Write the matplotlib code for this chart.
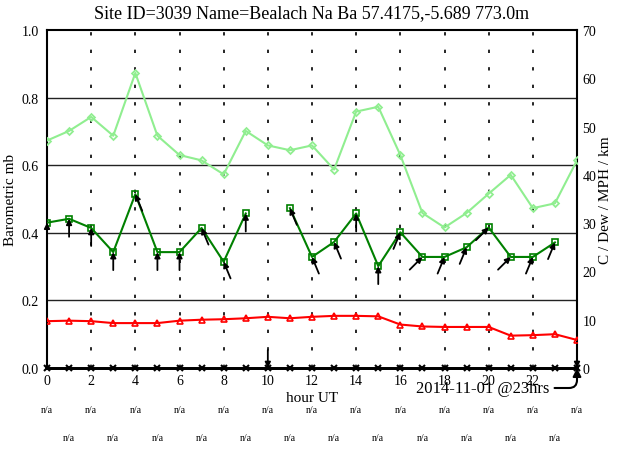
import matplotlib
matplotlib.use("Agg")
import matplotlib.pyplot as plt
import matplotlib.transforms as mtransforms
import numpy as np

plt.rcParams["font.family"] = ["Liberation Serif", "DejaVu Serif"]

# ── Data ──────────────────────────────────────────────────────────────────────
hours = list(range(25))
light_green = [47.1, 49.1, 52.0, 48.1, 61.1, 48.1, 44.1, 43.0, 40.1, 49.1, 46.1, 45.1, 46.1,
               41.1, 53.1, 54.1, 44.1, 32.1, 29.1, 32.1, 36.1, 40.0, 33.1, 34.1, 43.0]
wind_speed = [30.1, 30.9, 29.0, 24.0, 36.0, 24.0, 24.0, 29.0, 22.0, 32.0, np.nan, 33.1, 23.0,
              26.1, 32.0, 21.1, 28.1, 23.0, 23.0, 25.0, 29.1, 23.0, 23.0, 26.0, np.nan]
wind_dir = [180, 180, 180, 180, 157.5, 180, 180, 157.5, 157.5, 180, 0, 157.5, 157.5,
            157.5, 180, 180, 202.5, 225, 202.5, 202.5, 225, 225, 202.5, 202.5, 0]
red_line = [9.7, 9.8, 9.7, 9.3, 9.3, 9.3, 9.8, 10.0, 10.1, 10.3, 10.6, 10.3, 10.6,
            10.8, 10.8, 10.7, 9.0, 8.6, 8.5, 8.5, 8.5, 6.7, 6.8, 7.0, 5.8]
rain = [0.0, 0.0, 0.0, 0.0, 0.0, 0.0, 0.0, 0.0, 0.0, 0.0, 0.0, 0.0, 0.0,
        0.0, 0.0, 0.0, 0.0, 0.0, 0.0, 0.0, 0.0, 0.0, 0.0, 0.0, 0.0]
na_even = ["n/a"] * 13
na_odd = ["n/a"] * 12

TITLE = "Site ID=3039 Name=Bealach Na Ba 57.4175,-5.689 773.0m"
STAMP = "2014-11-01 @23hrs"

# ── Figure ────────────────────────────────────────────────────────────────────
fig = plt.figure(figsize=(6.18, 4.52), dpi=100)
ax = fig.add_axes([47 / 618, 1 - 369 / 452, 530 / 618, 338 / 452])
ax2 = ax.twinx()

ax.set_xlim(0, 24)
ax.set_ylim(0, 1.0)
ax2.set_ylim(0, 70)

ax.set_xticks(range(0, 24, 2))
ax.set_yticks(np.arange(0, 1.01, 0.2))
ax.set_yticklabels([f"{v:.1f}" for v in np.arange(0, 1.01, 0.2)])
ax2.set_yticks(range(0, 71, 10))
ax.tick_params(length=0, labelsize=10, pad=4)
ax.tick_params(axis="y", pad=6)
ax2.tick_params(length=0, labelsize=10, pad=4)

for v in [0.2, 0.4, 0.6, 0.8]:
    ax.axhline(v, color="#222222", lw=1.0, zorder=1)
for h in range(2, 24, 2):
    ax.axvline(h, color="black", lw=1.2, linestyle=(0, (2.0, 8.5)), zorder=1)

for sp in ax.spines.values():
    sp.set_linewidth(1.5)
ax.spines["bottom"].set_linewidth(2.0)
for sp in ax2.spines.values():
    sp.set_visible(False)

ax2.plot(hours, light_green, color="#90ee90", lw=1.5, marker="D", markersize=3.5,
         mfc="none", mew=1.3, zorder=3)
ax2.plot(hours, wind_speed, color="green", lw=1.5, marker="s", markersize=5,
         mfc="none", mew=1.2, zorder=3)
ax2.plot(hours, red_line, color="red", lw=1.5, marker="^", markersize=5,
         mfc="none", mew=1.2, zorder=3)
ax2.plot(hours, rain, color="black", lw=2.0, marker="x", markersize=4, mew=1.5,
         zorder=4, clip_on=False)

# wind arrows: head on the point, tail set back along the direction the wind comes from
L = 18
for h, s, d in zip(hours, wind_speed, wind_dir):
    y = 0 if np.isnan(s) else s
    r = np.radians(d)
    ax2.annotate("", xy=(h, y), xytext=(L * np.sin(r), L * np.cos(r)),
                 textcoords="offset pixels",
                 arrowprops=dict(arrowstyle="-|>", color="black", lw=1.3,
                                 mutation_scale=8, shrinkA=0, shrinkB=0),
                 zorder=5, annotation_clip=False)

ax2.annotate(STAMP, xy=(24, 0), xytext=(-28, -20), textcoords="offset pixels",
             ha="right", va="center", fontsize=12,
             arrowprops=dict(arrowstyle="-|>", color="black", lw=1.5,
                             mutation_scale=12, shrinkA=2, shrinkB=0,
                             connectionstyle="angle,angleA=0,angleB=90,rad=8"),
             zorder=6, annotation_clip=False)

ax.set_title(TITLE, fontsize=13, pad=9)
ax.set_xlabel("hour UT", fontsize=11, labelpad=3)
ax.set_ylabel("Barometric mb", fontsize=11, labelpad=3)
ax2.set_ylabel("C / Dew / MPH / km", fontsize=11, labelpad=2)

trans = mtransforms.blended_transform_factory(ax.transData, ax.transAxes)
for h, lab in zip(range(0, 25, 2), na_even):
    ax.text(h, -0.124, lab, transform=trans, ha="center", va="center",
            fontsize=7, clip_on=False)
for h, lab in zip(range(1, 24, 2), na_odd):
    ax.text(h, -0.207, lab, transform=trans, ha="center", va="center",
            fontsize=7, clip_on=False)

fig.savefig("out.png", dpi=100)
